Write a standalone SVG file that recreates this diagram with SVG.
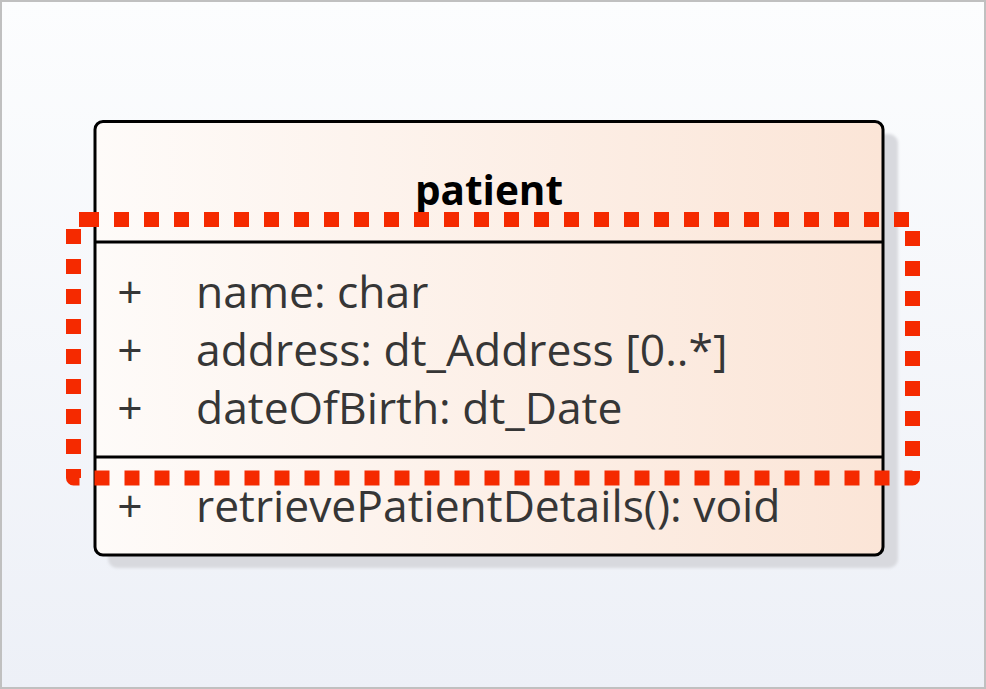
<svg xmlns="http://www.w3.org/2000/svg" width="986" height="689" viewBox="0 0 986 689">
<defs>
<linearGradient id="bg" x1="0" y1="0" x2="0" y2="1">
<stop offset="0" stop-color="#fcfdfe"/>
<stop offset="1" stop-color="#edf0f7"/>
</linearGradient>
<linearGradient id="boxfill" x1="0" y1="0" x2="1" y2="0">
<stop offset="0" stop-color="#fefbf9"/>
<stop offset="1" stop-color="#fbe5d7"/>
</linearGradient>
<filter id="soft" x="-5%" y="-5%" width="110%" height="110%">
<feGaussianBlur stdDeviation="1.5"/>
</filter>
</defs>
<style>
.t{font-family:"Open Sans","Noto Sans","Liberation Sans",sans-serif;font-size:44.4px;fill:#363636}
.title{font-family:"Open Sans","Noto Sans","Liberation Sans",sans-serif;font-size:40.5px;font-weight:bold;fill:#000000}
.sep{stroke:#000000;stroke-width:3}
</style>
<rect x="1" y="1" width="984" height="687" fill="url(#bg)" stroke="#c0c0c0" stroke-width="2"/>
<g id="patient">
<rect x="108" y="134" width="790" height="434" rx="9" fill="#d8d9de" filter="url(#soft)"/>
<rect x="95" y="121.5" width="788" height="433.5" rx="8" fill="url(#boxfill)" stroke="#000000" stroke-width="3"/>
<line class="sep" x1="95" y1="242" x2="883" y2="242"/>
<line class="sep" x1="95" y1="457" x2="883" y2="457"/>
<text class="title" x="489" y="205" text-anchor="middle">patient</text>
<text class="t" x="130" y="308" text-anchor="middle">+</text>
<text class="t" x="196" y="308">name: char</text>
<text class="t" x="130" y="366" text-anchor="middle">+</text>
<text class="t" x="196" y="366">address: dt_Address [0..*]</text>
<text class="t" x="130" y="424" text-anchor="middle">+</text>
<text class="t" x="196" y="424">dateOfBirth: dt_Date</text>
<text class="t" x="130" y="522" text-anchor="middle">+</text>
<text class="t" x="196" y="522">retrievePatientDetails(): void</text>
</g>
<g id="highlight">
<path d="M84 219.5 H912.5 V478 H73.5 V219.5 H84" fill="none" stroke="#f52a00" stroke-width="15" stroke-dasharray="15 15" stroke-linejoin="round"/>
</g>
</svg>
